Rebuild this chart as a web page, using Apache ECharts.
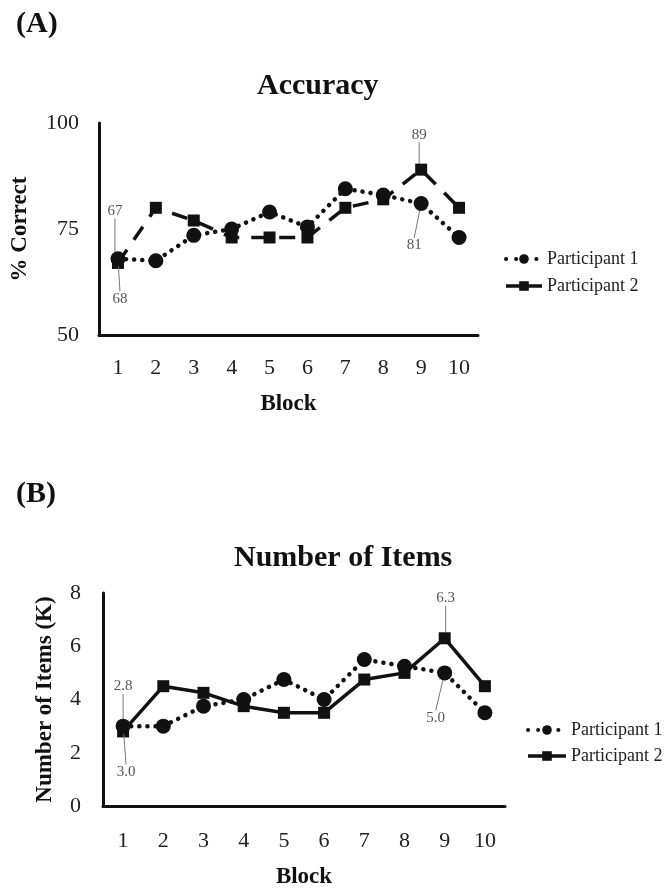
<!DOCTYPE html>
<html>
<head>
<meta charset="utf-8">
<script src="https://cdn.jsdelivr.net/npm/echarts@6/dist/echarts.min.js"></script>
<style>
html,body{margin:0;padding:0;background:#fff;}
#c{width:666px;height:893px;}
</style>
</head>
<body>
<div id="c"></div>
<script>
// ---- data ----
const blocks = ['1','2','3','4','5','6','7','8','9','10'];
const accuracyP1 = [68, 67.5, 73.5, 75, 79, 75.5, 84.5, 83, 81, 73];
const accuracyP2 = [67, 80, 77, 73, 73, 73, 80, 82, 89, 80];
const itemsP1 = [3.0, 3.0, 3.75, 4.0, 4.75, 4.0, 5.5, 5.25, 5.0, 3.5];
const itemsP2 = [2.8, 4.5, 4.25, 3.75, 3.5, 3.5, 4.75, 5.0, 6.3, 4.5];
const seriesNames = ['Participant 1', 'Participant 2'];
const accuracyTicks = [50, 75, 100];
const itemsTicks = [0, 2, 4, 6, 8];
// annotated points: [dataIndex]
const annotA1 = [0, 8];
const annotA2 = [0, 8];
const annotB1 = [0, 8];
const annotB2 = [0, 8];

// ---- styles ----
const SERIF = "'Liberation Serif','DejaVu Serif',serif";
const ink = '#111';
const annStyle = {color: '#555', fontSize: 15, fontFamily: SERIF};
const annLine = {show: true, lineStyle: {color: '#777', width: 1}};

function mkData(values, idxs, digits) {
  return values.map((v, i) => idxs.indexOf(i) >= 0 ? {
    value: v,
    label: Object.assign({show: true, position: 'inside',
      formatter: p => digits ? p.value.toFixed(digits) : String(Math.round(p.value))}, annStyle),
    labelLine: annLine
  } : v);
}

function layoutFor(offsets) {
  return function (params) {
    const o = offsets[params.dataIndex];
    if (!o) return {};
    return {dx: o[0], dy: o[1]};
  };
}

const p1Style = {type: [0.1, 8], width: 4.5, cap: 'round', color: ink};
const p2DashStyle = {type: [16, 12], width: 3.5, color: ink};
const p2SolidStyle = {type: 'solid', width: 3.5, color: ink};

const axisLabel = {color: '#222', fontSize: 22, fontFamily: SERIF};
const axisName = {color: '#111', fontSize: 23, fontWeight: 'bold', fontFamily: SERIF};
const legendText = {fontSize: 18, fontFamily: SERIF, color: '#222'};
const legendItems = [
  {name: seriesNames[0], lineStyle: {type: [0.1, 10], width: 4, cap: 'round', color: ink}},
  {name: seriesNames[1], lineStyle: {type: 'solid', width: 3.5, color: ink}}
];

const option = {
  backgroundColor: '#fff',
  animation: false,
  title: [
    {text: '(A)', left: 11, top: 4, textStyle: {fontSize: 30, fontWeight: 'bold', fontFamily: SERIF, color: ink}},
    {text: 'Accuracy', left: 252, top: 66, textStyle: {fontSize: 30, fontWeight: 'bold', fontFamily: SERIF, color: ink}},
    {text: '(B)', left: 11, top: 474, textStyle: {fontSize: 30, fontWeight: 'bold', fontFamily: SERIF, color: ink}},
    {text: 'Number of Items', left: 229, top: 538, textStyle: {fontSize: 30, fontWeight: 'bold', fontFamily: SERIF, color: ink}}
  ],
  legend: [
    {
      data: legendItems,
      orient: 'vertical', left: 499, top: 245, itemWidth: 36, itemHeight: 12, itemGap: 9,
      textStyle: legendText,
      selectedMode: false
    },
    {
      data: legendItems,
      orient: 'vertical', left: 521, top: 716, itemWidth: 38, itemHeight: 12, itemGap: 8,
      textStyle: legendText,
      selectedMode: false
    }
  ],
  grid: [
    {left: 99, top: 123, width: 379, height: 212},
    {left: 103, top: 593, width: 402, height: 213}
  ],
  xAxis: [
    {type: 'category', gridIndex: 0, data: blocks, boundaryGap: true,
     axisLine: {lineStyle: {color: ink, width: 3}}, axisTick: {show: false},
     axisLabel: Object.assign({margin: 22}, axisLabel),
     name: 'Block', nameLocation: 'middle', nameGap: 58, nameTextStyle: axisName},
    {type: 'category', gridIndex: 1, data: blocks, boundaryGap: true,
     axisLine: {lineStyle: {color: ink, width: 3}}, axisTick: {show: false},
     axisLabel: Object.assign({margin: 24}, axisLabel),
     name: 'Block', nameLocation: 'middle', nameGap: 60, nameTextStyle: axisName}
  ],
  yAxis: [
    {type: 'value', gridIndex: 0, min: accuracyTicks[0], max: accuracyTicks[accuracyTicks.length - 1], interval: 25,
     axisLine: {show: true, lineStyle: {color: ink, width: 3}}, axisTick: {show: false}, splitLine: {show: false},
     axisLabel: Object.assign({margin: 20}, axisLabel),
     name: '% Correct', nameLocation: 'middle', nameRotate: 90, nameGap: 67, nameTextStyle: axisName},
    {type: 'value', gridIndex: 1, min: itemsTicks[0], max: itemsTicks[itemsTicks.length - 1], interval: 2,
     axisLine: {show: true, lineStyle: {color: ink, width: 3}}, axisTick: {show: false}, splitLine: {show: false},
     axisLabel: Object.assign({margin: 22}, axisLabel),
     name: 'Number of Items (K)', nameLocation: 'middle', nameRotate: 90, nameGap: 46, nameTextStyle: axisName}
  ],
  series: [
    {name: seriesNames[0], type: 'line', xAxisIndex: 0, yAxisIndex: 0,
     data: mkData(accuracyP1, annotA1, 0), symbol: 'circle', symbolSize: 15,
     itemStyle: {color: ink}, lineStyle: p1Style, z: 3,
     labelLayout: layoutFor({0: [2, 40], 8: [-7, 42]})},
    {name: seriesNames[1], type: 'line', xAxisIndex: 0, yAxisIndex: 0,
     data: mkData(accuracyP2, annotA2, 0), symbol: 'rect', symbolSize: 12,
     itemStyle: {color: ink}, lineStyle: p2DashStyle, z: 2,
     labelLayout: layoutFor({0: [-3, -52], 8: [-2, -35]})},
    {name: seriesNames[0], type: 'line', xAxisIndex: 1, yAxisIndex: 1,
     data: mkData(itemsP1, annotB1, 1), symbol: 'circle', symbolSize: 15,
     itemStyle: {color: ink}, lineStyle: p1Style, z: 3,
     labelLayout: layoutFor({0: [3, 46], 8: [-9, 45]})},
    {name: seriesNames[1], type: 'line', xAxisIndex: 1, yAxisIndex: 1,
     data: mkData(itemsP2, annotB2, 1), symbol: 'rect', symbolSize: 12,
     itemStyle: {color: ink}, lineStyle: p2SolidStyle, z: 2,
     labelLayout: layoutFor({0: [0, -45], 8: [1, -40]})}
  ]
};

const chart = echarts.init(document.getElementById('c'), null, {renderer: 'canvas'});
chart.setOption(option);
</script>
</body>
</html>
